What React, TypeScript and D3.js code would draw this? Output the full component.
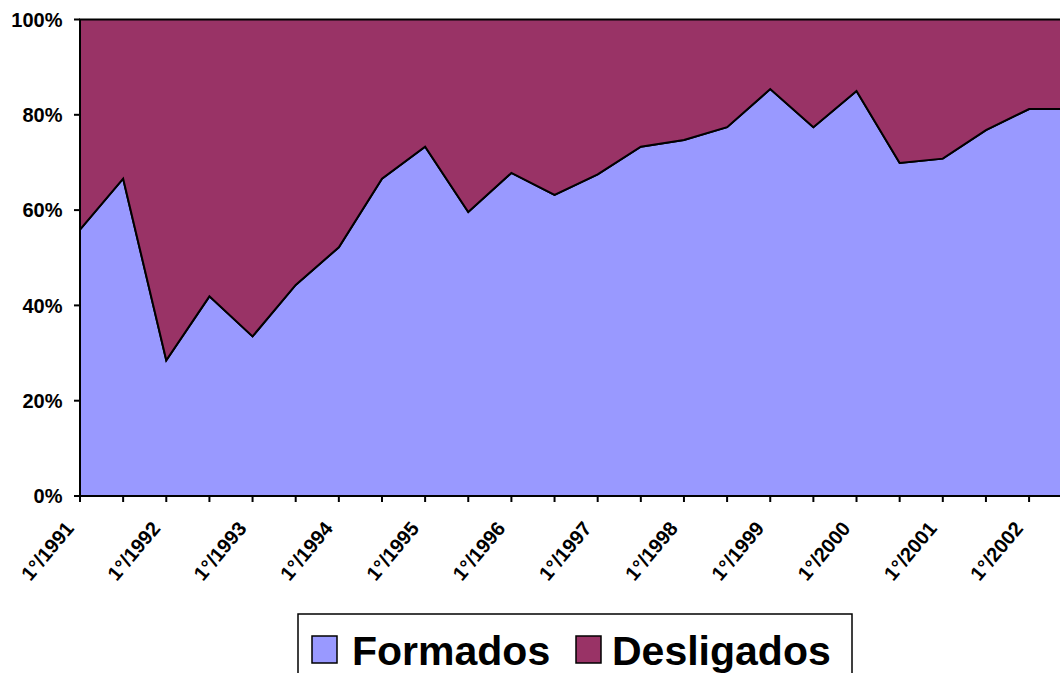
import { useEffect, useRef } from "react";
import * as d3 from "d3";

// semesters 1°/1991 .. 2°/2002
const categories = [
  "1°/1991", "2°/1991", "1°/1992", "2°/1992", "1°/1993", "2°/1993",
  "1°/1994", "2°/1994", "1°/1995", "2°/1995", "1°/1996", "2°/1996",
  "1°/1997", "2°/1997", "1°/1998", "2°/1998", "1°/1999", "2°/1999",
  "1°/2000", "2°/2000", "1°/2001", "2°/2001", "1°/2002", "2°/2002",
];
const formados = [
  55.9, 66.6, 28.5, 41.9, 33.5, 44.3, 52.2, 66.6, 73.3, 59.6, 67.8, 63.2,
  67.5, 73.3, 74.7, 77.4, 85.4, 77.4, 85.0, 69.9, 70.8, 76.8, 81.2, 81.2,
];
const desligados = [
  44.1, 33.4, 71.5, 58.1, 66.5, 55.7, 47.8, 33.4, 26.7, 40.4, 32.2, 36.8,
  32.5, 26.7, 25.3, 22.6, 14.6, 22.6, 15.0, 30.1, 29.2, 23.2, 18.8, 18.8,
];
const yTicks = [0, 0.2, 0.4, 0.6, 0.8, 1];
const seriesNames = ["Formados", "Desligados"];
const colors = ["#9999ff", "#993366"];

export default function App() {
  const ref = useRef<SVGSVGElement>(null);
  const width = 1060;
  const height = 673;

  useEffect(() => {
    if (!ref.current) return;
    const svg = d3.select(ref.current);
    svg.selectAll("*").remove();

    const font = "'Liberation Sans', Arial, sans-serif";
    const left = 80;
    const step = 43.14;
    const x = d3.scalePoint<string>()
      .domain(categories)
      .range([left, left + step * (categories.length - 1)]);
    const y = d3.scaleLinear().domain([0, 1]).range([496, 19.5]);

    const rows = categories.map((c, i) => ({ cat: c, Formados: formados[i], Desligados: desligados[i] }));
    const stacked = d3.stack<any>()
      .keys(seriesNames)
      .offset(d3.stackOffsetExpand)(rows);

    const area = d3.area<any>()
      .x(d => x(d.data.cat)!)
      .y0(d => y(d[0]))
      .y1(d => y(d[1]));

    svg.append("g")
      .selectAll("path")
      .data(stacked)
      .enter()
      .append("path")
      .attr("d", area)
      .attr("fill", (d, i) => colors[i])
      .attr("stroke", "#000")
      .attr("stroke-width", 2)
      .attr("stroke-linejoin", "miter");

    // y axis
    const yAxis = svg.append("g");
    yAxis.append("line")
      .attr("x1", left).attr("x2", left)
      .attr("y1", y(0) + 1).attr("y2", y(1))
      .attr("stroke", "#000").attr("stroke-width", 2);
    yAxis.selectAll(".tick")
      .data(yTicks)
      .enter()
      .append("line")
      .attr("x1", left - 6).attr("x2", left)
      .attr("y1", d => y(d)).attr("y2", d => y(d))
      .attr("stroke", "#000").attr("stroke-width", 2);
    yAxis.selectAll(".lbl")
      .data(yTicks)
      .enter()
      .append("text")
      .attr("x", 62.5)
      .attr("y", d => y(d))
      .attr("dy", "0.36em")
      .attr("text-anchor", "end")
      .style("font-family", font)
      .style("font-size", "20px")
      .style("font-weight", "bold")
      .text(d => d3.format(".0%")(d));

    // x axis
    const xAxis = svg.append("g");
    xAxis.append("line")
      .attr("x1", left - 1).attr("x2", width)
      .attr("y1", y(0)).attr("y2", y(0))
      .attr("stroke", "#000").attr("stroke-width", 2);
    xAxis.selectAll(".tick")
      .data(categories)
      .enter()
      .append("line")
      .attr("x1", d => x(d)!).attr("x2", d => x(d)!)
      .attr("y1", y(0)).attr("y2", y(0) + 6)
      .attr("stroke", "#000").attr("stroke-width", 2);
    xAxis.selectAll(".lbl")
      .data(categories.filter((c, i) => i % 2 === 0))
      .enter()
      .append("text")
      .attr("transform", d => `translate(${x(d)! - 5},${529}) rotate(-50)`)
      .attr("text-anchor", "end")
      .style("font-family", font)
      .style("font-size", "20px")
      .style("font-weight", "bold")
      .text(d => d);

    // legend
    const lg = svg.append("g");
    lg.append("rect")
      .attr("x", 298).attr("y", 614)
      .attr("width", 554).attr("height", 80)
      .attr("fill", "#fff").attr("stroke", "#000").attr("stroke-width", 1.5);
    const items = [
      { name: seriesNames[0], color: colors[0], sx: 312, tx: 352 },
      { name: seriesNames[1], color: colors[1], sx: 576, tx: 612 },
    ];
    items.forEach(it => {
      lg.append("rect")
        .attr("x", it.sx).attr("y", 636)
        .attr("width", 25).attr("height", 27)
        .attr("fill", it.color).attr("stroke", "#000").attr("stroke-width", 1.5);
      lg.append("text")
        .attr("x", it.tx).attr("y", 665)
        .style("font-family", font)
        .style("font-size", "41px")
        .style("font-weight", "bold")
        .text(it.name);
    });
  }, []);

  return (
    <div style={{ position: "fixed", left: 0, top: 0, width, height, overflow: "hidden", background: "#fff" }}>
      <svg ref={ref} width={width} height={height} viewBox={`0 0 ${width} ${height}`} style={{ display: "block" }} />
    </div>
  );
}
